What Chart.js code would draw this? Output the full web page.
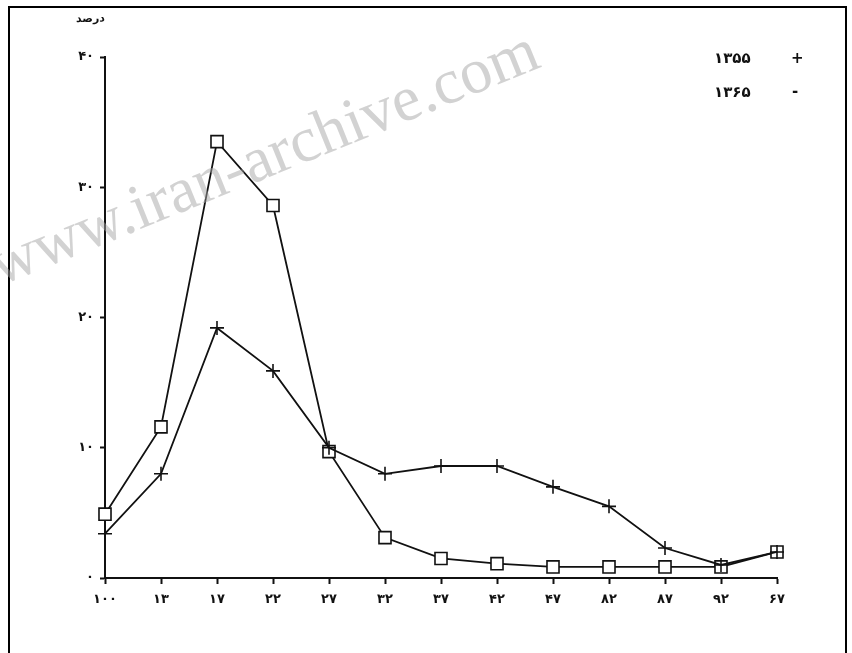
<!DOCTYPE html>
<html>
<head>
<meta charset="utf-8">
<script src="https://cdn.jsdelivr.net/npm/chart.js@4/dist/chart.umd.min.js"></script>
<style>
  html, body { margin: 0; padding: 0; background: #fff; }
  #wrap { position: relative; width: 852px; height: 653px; overflow: hidden; }
  #frame { position: absolute; left: 8px; top: 6px; width: 839px; height: 660px;
           border: 2px solid #000; box-sizing: border-box; }
  .lbl { position: absolute; font-family: 'DejaVu Sans', sans-serif; font-weight: bold;
         color: #111; white-space: nowrap; }
  #mark { position: absolute; left: -22px; top: 232px; font-family: 'Liberation Serif', serif;
          font-size: 64px; color: rgba(165,165,165,0.5); transform: rotate(-22deg);
          transform-origin: left top; white-space: nowrap; }
</style>
</head>
<body>
<div id="wrap">
  <canvas id="myChart" width="852" height="653"></canvas>
  <div id="frame"></div>
  <div class="lbl" style="left:76px;top:12px;font-size:11px;" dir="rtl">درصد</div>
  <div class="lbl" style="left:714px;top:49px;font-size:15px;">۱۳۵۵</div>
  <div class="lbl" style="left:791px;top:49px;font-size:15px;">+</div>
  <div class="lbl" style="left:714px;top:83px;font-size:15px;">۱۳۶۵</div>
  <div class="lbl" style="left:792px;top:82px;font-size:15px;">-</div>
  <div id="mark">www.iran-archive.com</div>
</div>
<script>
// age groups (as printed on the x axis)
let categories = ['۱۰۰', '۱۳', '۱۷', '۲۲', '۲۷', '۳۲', '۳۷', '۴۲', '۴۷', '۸۲', '۸۷', '۹۲', '۶۷'];

// percent, year 1355 (plus markers)
let series1355 = [3.4, 8.0, 19.2, 15.9, 10.0, 8.0, 8.6, 8.6, 7.0, 5.5, 2.3, 1.0, 2.0];
// percent, year 1365 (square markers)
let series1365 = [4.9, 11.6, 33.5, 28.6, 9.7, 3.1, 1.5, 1.1, 0.85, 0.85, 0.85, 0.85, 2.0];

let yTickLabels = ['۰', '۱۰', '۲۰', '۳۰', '۴۰'];

let tickFont = { family: 'DejaVu Sans', size: 13, weight: 'bold' };

let ctx = document.getElementById('myChart').getContext('2d');

let myChart = new Chart(ctx, {
  type: 'line',
  data: {
    labels: categories,
    datasets: [
      {
        label: '۱۳۵۵',
        data: series1355,
        borderColor: '#111',
        borderWidth: 1.8,
        pointStyle: 'cross',
        pointRadius: 7,
        pointBorderWidth: 1.6,
        pointBorderColor: '#111',
        tension: 0
      },
      {
        label: '۱۳۶۵',
        data: series1365,
        borderColor: '#111',
        borderWidth: 1.8,
        pointStyle: 'rect',
        pointRadius: 8.5,
        pointBackgroundColor: '#fff',
        pointBorderWidth: 1.6,
        pointBorderColor: '#111',
        tension: 0
      }
    ]
  },
  options: {
    responsive: false,
    animation: false,
    layout: { padding: { left: 0, right: 75, top: 57, bottom: 0 } },
    plugins: { legend: { display: false }, tooltip: { enabled: false } },
    scales: {
      x: {
        offset: false,
        afterFit: function (s) { s.height = 75; },
        border: { color: '#111', width: 2 },
        grid: { drawOnChartArea: false, offset: false, tickLength: 6, tickColor: '#111', tickWidth: 2 },
        ticks: { color: '#111', font: tickFont, padding: 8, maxRotation: 0, autoSkip: false }
      },
      y: {
        min: 0,
        max: 40,
        afterFit: function (s) { s.width = 105; },
        border: { color: '#111', width: 2 },
        grid: { drawOnChartArea: false, tickLength: 5, tickColor: '#111', tickWidth: 2 },
        ticks: {
          stepSize: 10,
          color: '#111',
          font: tickFont,
          padding: 6,
          callback: function (value) {
            return yTickLabels[value / 10];
          }
        }
      }
    }
  }
});
</script>
</body>
</html>
